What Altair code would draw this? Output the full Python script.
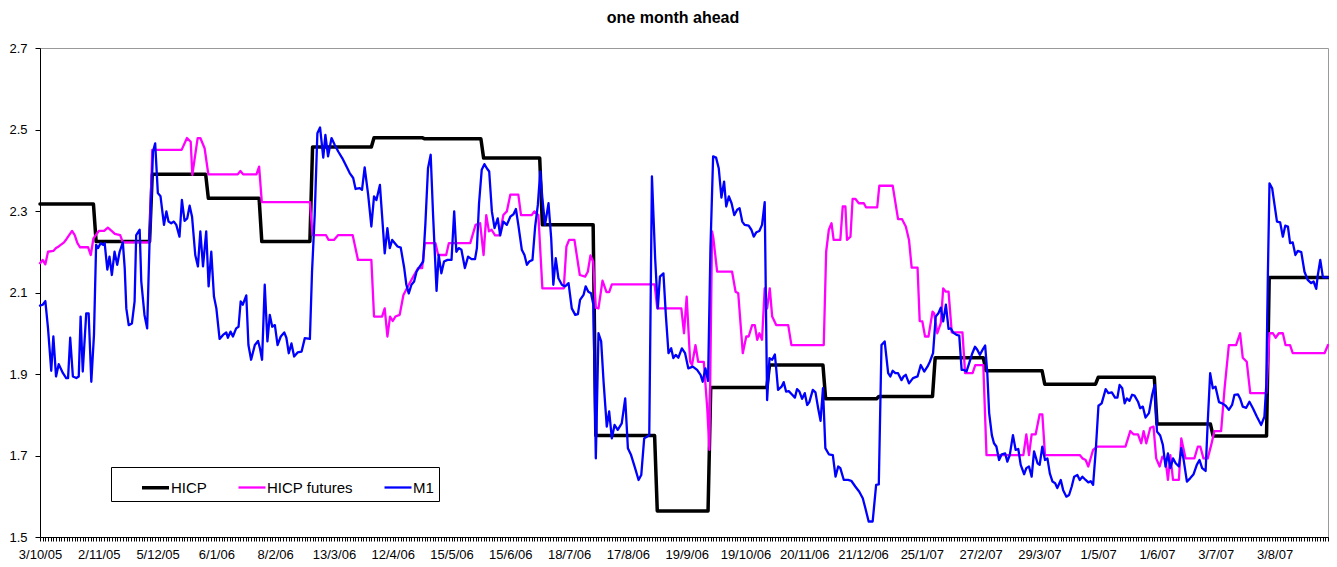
import altair as alt
import pandas as pd

# ---- data (x = trading-day index from 3/10/05) ----
tick_labels = ["3/10/05", "2/11/05", "5/12/05", "6/1/06", "8/2/06", "13/3/06", "12/4/06",
               "15/5/06", "15/6/06", "18/7/06", "17/8/06", "19/9/06", "19/10/06", "20/11/06",
               "21/12/06", "25/1/07", "27/2/07", "29/3/07", "1/5/07", "1/6/07", "3/7/07", "3/8/07"]
LABEL_STEP = 22
LAST_DAY = 482

hicp_x = [0, 20, 21, 41, 42, 62, 63, 82, 83, 101, 102, 124, 125, 143, 144, 165, 166, 187, 188, 207,
          208, 230, 231, 250, 251, 272, 273, 293, 294, 313, 314, 334, 335, 353, 354, 375, 376, 395,
          396, 417, 418, 438, 439, 459, 460, 482]
hicp_y = [2.317, 2.317, 2.225, 2.225, 2.390, 2.390, 2.331, 2.331, 2.225, 2.225, 2.457, 2.457, 2.480,
          2.480, 2.477, 2.477, 2.430, 2.430, 2.266, 2.266, 1.749, 1.749, 1.564, 1.564, 1.867, 1.867,
          1.922, 1.922, 1.839, 1.839, 1.845, 1.845, 1.940, 1.940, 1.908, 1.908, 1.875, 1.875, 1.892,
          1.892, 1.777, 1.777, 1.748, 1.748, 2.137, 2.137]

fut_pts = [
    (0, 2.172), (1, 2.180), (2, 2.169), (3, 2.200), (5, 2.202), (6, 2.209), (7, 2.213), (9, 2.223),
    (10, 2.232), (12, 2.251), (13, 2.241), (14, 2.221), (15, 2.211), (18, 2.211), (19, 2.192),
    (20, 2.233), (22, 2.251), (24, 2.251), (25.4, 2.259), (27, 2.250), (28, 2.244), (30, 2.241),
    (31, 2.223), (41, 2.223), (42, 2.450), (53, 2.450), (55, 2.479), (56.4, 2.470), (57, 2.389),
    (59, 2.479), (60, 2.479), (61.6, 2.454), (63, 2.390), (74, 2.390), (75, 2.398), (76, 2.390),
    (81, 2.390), (82, 2.409), (83, 2.322), (101, 2.322), (102, 2.241), (107, 2.241), (108, 2.229),
    (110, 2.229), (111.6, 2.241), (117, 2.241), (119, 2.180), (124, 2.180), (125, 2.041), (128, 2.041),
    (129, 2.061), (130, 1.992), (131, 2.041), (132, 2.030), (133, 2.041), (134.6, 2.045), (136, 2.094),
    (138, 2.119), (140, 2.143), (141.5, 2.160), (143, 2.160), (144, 2.221), (148, 2.221), (149, 2.192),
    (152, 2.192), (153, 2.221), (161, 2.221), (163, 2.266), (164.7, 2.270), (166, 2.192), (167, 2.290),
    (168, 2.250), (169, 2.254), (170.3, 2.240), (172, 2.240), (173.4, 2.290), (174.7, 2.299),
    (176, 2.340), (179, 2.340), (180, 2.290), (184, 2.290), (185, 2.299), (186.5, 2.290), (188, 2.110),
    (196, 2.110), (197, 2.213), (198, 2.229), (200, 2.229), (202, 2.143), (204, 2.139), (205, 2.151),
    (206, 2.191), (207, 2.176), (208, 2.063), (209, 2.061), (210.5, 2.129), (212, 2.101), (213, 2.101),
    (214, 2.120), (230, 2.120), (231, 2.061), (240, 2.061), (241, 2.000), (242, 2.090), (243.3, 1.930),
    (244, 1.922), (245.3, 1.971), (246.3, 1.930), (248.4, 1.930), (249.7, 1.816), (250.5, 1.714),
    (251.5, 2.250), (252, 2.233), (253.4, 2.151), (259, 2.151), (260.3, 2.102), (261.3, 2.098),
    (263, 1.951), (264.3, 1.992), (265.2, 1.992), (266.5, 2.020), (267.5, 2.020), (268.4, 1.984),
    (269.2, 2.000), (270.2, 1.984), (271.2, 2.110), (272.1, 2.061), (273.1, 2.110), (274, 2.041),
    (275.5, 2.020), (280, 2.020), (281.2, 1.971), (293.3, 1.971), (294.2, 2.200), (295.2, 2.254),
    (296.2, 2.270), (297, 2.229), (299.5, 2.229), (300.4, 2.311), (301.4, 2.311), (302, 2.229),
    (303.3, 2.237), (304.1, 2.330), (305.1, 2.330), (306.4, 2.319), (308.3, 2.319), (309.1, 2.309),
    (313.3, 2.309), (314.1, 2.362), (319.1, 2.362), (321.1, 2.280), (322.6, 2.280), (324, 2.262),
    (325.2, 2.229), (326.2, 2.161), (328.4, 2.161), (329.2, 2.030), (330.2, 2.029), (331.2, 1.992),
    (332.5, 1.992), (334, 2.053), (334.6, 2.049), (335.8, 2.000), (337.1, 2.025), (338, 2.110),
    (339, 2.102), (340, 2.102), (341.2, 2.002), (345.2, 2.002), (346.2, 1.902), (349, 1.902),
    (350, 1.922), (353, 1.922), (354.2, 1.701), (368, 1.701), (369.1, 1.752), (370.1, 1.701),
    (371.1, 1.752), (372.6, 1.752), (374.1, 1.801), (375.1, 1.801), (376.1, 1.701), (389.1, 1.701),
    (390.1, 1.693), (391.3, 1.689), (392.3, 1.673), (394.1, 1.714), (395.7, 1.722), (406.2, 1.722),
    (408, 1.760), (409.2, 1.752), (410.9, 1.752), (412.1, 1.730), (413, 1.760), (414, 1.730),
    (415.5, 1.768), (416.7, 1.771), (417.7, 1.693), (419, 1.673), (420, 1.697), (421.2, 1.689),
    (422.1, 1.640), (423, 1.701), (424, 1.640), (426.2, 1.640), (427.1, 1.742), (428.7, 1.693),
    (432, 1.693), (433.3, 1.722), (434.2, 1.722), (435.4, 1.693), (437, 1.693), (438.3, 1.726),
    (439.5, 1.760), (442, 1.760), (443.3, 1.865), (444.9, 1.971), (447.6, 1.971), (449.1, 2.000),
    (450.1, 1.940), (451.6, 1.930), (452.9, 1.853), (458.9, 1.853), (460.1, 2.000), (461.4, 2.000),
    (462.4, 1.989), (463.6, 2.000), (465.1, 2.000), (466.1, 1.971), (467.8, 1.971), (468.8, 1.951),
    (480.7, 1.951), (482, 1.971),
]

m1_pts = [
    (0, 2.068), (1, 2.070), (2, 2.079), (3, 2.012), (4.2, 1.908), (5, 1.992), (6, 1.894), (7, 1.924),
    (8.6, 1.902), (9.8, 1.890), (10.5, 1.890), (11.3, 1.989), (12.3, 1.894), (13.6, 1.890),
    (14.5, 1.894), (15.2, 2.041), (16, 1.906), (17.3, 2.049), (18.2, 2.049), (19.2, 1.881),
    (20.2, 1.996), (21, 2.217), (21.7, 2.209), (22.7, 2.221), (23.6, 2.217), (24.2, 2.221),
    (25.2, 2.156), (26, 2.188), (26.9, 2.143), (27.9, 2.200), (28.9, 2.168), (29.8, 2.200),
    (31, 2.223), (31.7, 2.160), (32.3, 2.061), (33.2, 2.020), (34.4, 2.024), (35.4, 2.078),
    (36, 2.241), (37.3, 2.254), (37.9, 2.127), (39.1, 2.045), (40.1, 2.012), (41, 2.225),
    (42.3, 2.446), (43.1, 2.466), (44.1, 2.344), (45.1, 2.336), (46.4, 2.266), (47.3, 2.299),
    (48.1, 2.274), (49.1, 2.270), (50.1, 2.274), (51, 2.266), (52.2, 2.237), (53.1, 2.327),
    (54.1, 2.276), (55.1, 2.282), (56, 2.313), (56.9, 2.286), (58.1, 2.192), (59.1, 2.164),
    (60, 2.250), (61, 2.164), (62.2, 2.250), (63.1, 2.115), (64.1, 2.200), (65.1, 2.090),
    (66, 2.061), (67.2, 1.986), (68.5, 1.996), (69.7, 2.002), (70.3, 1.989), (71.3, 2.004),
    (72.2, 1.992), (73.4, 2.012), (74.3, 2.016), (75.1, 2.078), (75.9, 2.070), (77.2, 2.093),
    (78, 1.971), (79, 1.935), (80.4, 1.971), (81.6, 1.981), (82.3, 1.963), (83.1, 1.935),
    (84.1, 2.119), (85.1, 1.980), (86, 2.045), (86.9, 2.016), (87.9, 2.020), (88.9, 1.971),
    (90.1, 1.992), (91.4, 2.002), (92.2, 1.989), (93.1, 1.951), (94.1, 1.975), (95.1, 1.943),
    (96.4, 1.953), (97.9, 1.955), (99.1, 1.988), (101, 1.986), (101.8, 2.151), (102.8, 2.290),
    (103.8, 2.491), (104.8, 2.505), (106, 2.431), (106.8, 2.487), (107.8, 2.434), (109.1, 2.479),
    (110.3, 2.462), (111.6, 2.446), (113.1, 2.430), (114.7, 2.409), (115.9, 2.393), (117.2, 2.381),
    (118.1, 2.354), (119.7, 2.356), (120.5, 2.352), (121.5, 2.407), (122.8, 2.340), (124, 2.262),
    (125, 2.336), (125.9, 2.327), (127.2, 2.364), (128, 2.290), (129, 2.196), (130, 2.258),
    (130.9, 2.209), (131.8, 2.229), (132.8, 2.221), (133.8, 2.213), (135, 2.210), (136.3, 2.160),
    (137.1, 2.119), (138, 2.098), (139, 2.119), (140, 2.127), (140.9, 2.151), (141.7, 2.160),
    (143.4, 2.176), (144.2, 2.266), (145.2, 2.405), (146.2, 2.438), (147.1, 2.290), (148.4, 2.104),
    (149.2, 2.192), (150.2, 2.147), (151.2, 2.176), (152.5, 2.180), (154, 2.180), (155, 2.299),
    (155.8, 2.200), (156.7, 2.209), (157.7, 2.205), (159, 2.160), (160.2, 2.188), (161.5, 2.182),
    (162.8, 2.182), (163.5, 2.209), (164.3, 2.319), (165.3, 2.401), (166.3, 2.415), (167.2, 2.405),
    (168.1, 2.397), (169.1, 2.299), (170.1, 2.258), (171.3, 2.282), (172.2, 2.240), (173.4, 2.274),
    (174.7, 2.266), (176, 2.286), (177.2, 2.292), (178.1, 2.305), (179, 2.266), (180.3, 2.205),
    (181.3, 2.192), (182.2, 2.168), (183.1, 2.176), (184.3, 2.180), (185.3, 2.262), (186.3, 2.315),
    (187.2, 2.397), (188, 2.331), (189, 2.266), (190.3, 2.319), (191.3, 2.233), (192.1, 2.119),
    (193, 2.184), (194, 2.135), (195.3, 2.119), (196.5, 2.115), (197.8, 2.123), (199, 2.061),
    (200.3, 2.045), (201.3, 2.047), (202.1, 2.082), (203.4, 2.094), (204.2, 2.115), (205.2, 2.102),
    (206.2, 2.098), (207.1, 2.070), (208, 1.693), (209, 2.000), (210, 1.980), (210.9, 1.881),
    (212.1, 1.771), (213, 1.808), (214, 1.742), (215, 1.775), (216.2, 1.763), (217.7, 1.779),
    (219, 1.840), (220, 1.718), (221.2, 1.701), (222.7, 1.669), (224, 1.640), (225, 1.652),
    (226.1, 1.742), (227.1, 1.746), (228, 1.750), (229, 2.385), (230.2, 2.184), (231.2, 2.061),
    (232, 2.139), (233.3, 2.147), (234.2, 2.045), (235.2, 1.951), (236.2, 1.963), (237, 1.939),
    (237.9, 1.947), (238.9, 1.940), (240.2, 1.963), (241.4, 1.951), (242.6, 1.914), (244.3, 1.918),
    (245.9, 1.910), (247.2, 1.898), (248, 1.881), (249, 1.914), (250, 1.883), (250.9, 2.209),
    (251.9, 2.434), (253, 2.431), (254, 2.405), (255, 2.333), (256, 2.372), (256.8, 2.311),
    (257.8, 2.336), (258.8, 2.319), (259.8, 2.290), (260.9, 2.303), (261.8, 2.307), (262.8, 2.274),
    (263.7, 2.266), (265.2, 2.264), (266.2, 2.254), (267.1, 2.237), (268.1, 2.248), (269.2, 2.251),
    (270.2, 2.266), (271.2, 2.322), (272.1, 1.836), (273, 1.939), (274, 1.935), (275, 1.948),
    (275.5, 1.914), (276.2, 1.861), (277.5, 1.869), (278.3, 1.880), (279.2, 1.857), (280.2, 1.858),
    (281.5, 1.849), (282.5, 1.842), (283.3, 1.863), (284.2, 1.857), (285.2, 1.839), (286.2, 1.853),
    (287.1, 1.824), (287.9, 1.831), (289.2, 1.861), (290.2, 1.855), (291.2, 1.816), (292.1, 1.785),
    (293, 1.865), (293.9, 1.718), (295.2, 1.703), (296.7, 1.701), (297.7, 1.648), (298.7, 1.673),
    (299.5, 1.669), (300.8, 1.640), (302.4, 1.640), (303.6, 1.638), (305.1, 1.624), (306.6, 1.611),
    (307.9, 1.595), (308.9, 1.570), (310.1, 1.538), (311.6, 1.538), (312.9, 1.628), (313.9, 1.629),
    (314.9, 1.971), (316.1, 1.980), (317.4, 1.902), (318.2, 1.894), (319.1, 1.908), (320.1, 1.902),
    (321.1, 1.902), (322.4, 1.885), (323.2, 1.894), (324, 1.898), (325.2, 1.877), (326.7, 1.890),
    (328.4, 1.894), (329.6, 1.922), (330.9, 1.906), (332.1, 1.918), (333, 1.930), (334.2, 1.951),
    (335.2, 2.041), (336.2, 2.049), (337.1, 2.063), (338, 2.029), (339, 2.070), (340, 2.011),
    (340.8, 2.012), (341.7, 2.002), (343, 1.996), (344, 1.994), (344.9, 1.910), (345.8, 1.910),
    (346.7, 1.906), (347.7, 1.926), (348.9, 1.951), (349.9, 1.967), (350.8, 1.959), (351.7, 1.947),
    (352.7, 1.959), (353.7, 1.970), (354.5, 1.902), (355.2, 1.804), (356.2, 1.750), (357, 1.730),
    (357.9, 1.722), (358.9, 1.689), (359.9, 1.703), (361.2, 1.705), (362, 1.685), (362.9, 1.701),
    (364.1, 1.750), (365.1, 1.714), (366.1, 1.716), (367, 1.677), (368.3, 1.654), (369.1, 1.669),
    (370.1, 1.673), (371.1, 1.648), (372, 1.710), (373.3, 1.681), (374.1, 1.677), (375.1, 1.722),
    (376.1, 1.689), (377, 1.693), (377.9, 1.656), (378.9, 1.636), (379.9, 1.632), (380.7, 1.620),
    (382, 1.640), (382.9, 1.615), (384.1, 1.599), (385.1, 1.603), (386.1, 1.624), (387, 1.648),
    (388.2, 1.652), (389.1, 1.640), (390.1, 1.648), (391.3, 1.640), (392.3, 1.634), (393.2, 1.637),
    (394.1, 1.628), (395.1, 1.714), (396.1, 1.822), (397.3, 1.828), (398.8, 1.863), (399.8, 1.853),
    (401.1, 1.855), (402.3, 1.842), (403.2, 1.842), (404, 1.873), (405, 1.865), (405.9, 1.828),
    (406.7, 1.840), (407.7, 1.834), (408.7, 1.849), (409.6, 1.847), (410.9, 1.832), (411.7, 1.816),
    (412.7, 1.820), (413.7, 1.793), (415, 1.804), (416.2, 1.849), (417.1, 1.873), (418, 1.759),
    (419.2, 1.749), (420.2, 1.726), (421.2, 1.673), (422.1, 1.705), (423, 1.669), (424, 1.693),
    (425, 1.681), (426.2, 1.673), (427.1, 1.718), (427.9, 1.693), (429.2, 1.636), (430.4, 1.644),
    (431.7, 1.654), (432.9, 1.677), (433.9, 1.689), (434.9, 1.669), (436.2, 1.662), (437, 1.783),
    (437.9, 1.902), (438.9, 1.865), (439.9, 1.869), (441.2, 1.831), (442.4, 1.828), (443.7, 1.822),
    (444.9, 1.812), (446.1, 1.824), (447, 1.849), (448.3, 1.850), (449.1, 1.840), (450.1, 1.820),
    (451.4, 1.817), (452.6, 1.832), (453.9, 1.816), (455.4, 1.795), (457, 1.775), (458.2, 1.795),
    (458.9, 1.873), (459.5, 2.143), (460.1, 2.368), (461.1, 2.356), (462, 2.315), (462.9, 2.274),
    (464.1, 2.272), (465.1, 2.237), (466, 2.264), (467, 2.262), (467.8, 2.221), (468.8, 2.223),
    (469.8, 2.192), (470.7, 2.202), (472, 2.199), (473.2, 2.151), (474.4, 2.131), (475.7, 2.123),
    (476.6, 2.127), (477.6, 2.109), (478.2, 2.143), (479.1, 2.180), (480.1, 2.137), (482, 2.137),
]

series_names = ["HICP", "HICP futures", "M1"]
series_colors = ["#000000", "#FF00FF", "#0000FF"]
series_widths = [3.5, 2.3, 2.3]

rows = []
for x, y in zip(hicp_x, hicp_y):
    rows.append({"day": x, "value": y, "series": "HICP"})
for x, y in fut_pts:
    rows.append({"day": x, "value": y, "series": "HICP futures"})
for x, y in m1_pts:
    rows.append({"day": x, "value": y, "series": "M1"})
df = pd.DataFrame(rows)

FONT = "Liberation Sans"
label_js = "[" + ",".join("'" + s + "'" for s in tick_labels) + "]"
label_expr = f"datum.value % {LABEL_STEP} == 0 ? {label_js}[datum.value / {LABEL_STEP}] : ''"

x_enc = alt.X("day:Q",
              scale=alt.Scale(domain=[0, LAST_DAY], nice=False, zero=False),
              axis=alt.Axis(title=None, values=list(range(0, LAST_DAY + 1)), labelExpr=label_expr,
                            labelOverlap=False, labelFlush=False, tickSize=4, labelPadding=7,
                            labelFontSize=13, labelAngle=0, grid=False))
y_enc = alt.Y("value:Q",
              scale=alt.Scale(domain=[1.5, 2.7], nice=False, zero=False),
              axis=alt.Axis(title=None, values=[1.5, 1.7, 1.9, 2.1, 2.3, 2.5, 2.7], format=".1f",
                            tickSize=5, labelPadding=8, labelFontSize=13, grid=False))
color_enc = alt.Color("series:N",
                      scale=alt.Scale(domain=series_names, range=series_colors),
                      legend=alt.Legend(title=None))
width_enc = alt.StrokeWidth("series:N",
                            scale=alt.Scale(type="ordinal", domain=series_names, range=series_widths),
                            legend=alt.Legend(title=None))

base = alt.Chart(df).mark_line(strokeJoin="round", strokeCap="round").encode(
    x=x_enc, y=y_enc, color=color_enc, strokeWidth=width_enc)

layers = [base.transform_filter(alt.datum.series == name) for name in series_names]

chart = alt.layer(*layers).properties(
    width=1288, height=489,
    title=alt.TitleParams("one month ahead", font=FONT, fontSize=16, fontWeight="bold",
                          anchor="middle", dx=-11, offset=16, color="black"),
    autosize=alt.AutoSizeParams(type="none"),
    padding={"left": 32, "top": 40, "right": 1, "bottom": 25},
).configure_view(
    stroke="#999999", strokeWidth=1
).configure_axis(
    domainColor="black", tickColor="black", labelColor="black", labelFont=FONT, domainWidth=1
).configure_legend(
    orient="none", legendX=71, legendY=419, direction="horizontal",
    symbolType="stroke", symbolSize=729, labelFont=FONT, labelFontSize=15, labelColor="black",
    labelOffset=0, padding=5, strokeColor="black", fillColor="white", cornerRadius=0,
    symbolOffset=24, columnPadding=6
)

chart.save("out.html", embed_options={"renderer": "svg", "actions": False})
